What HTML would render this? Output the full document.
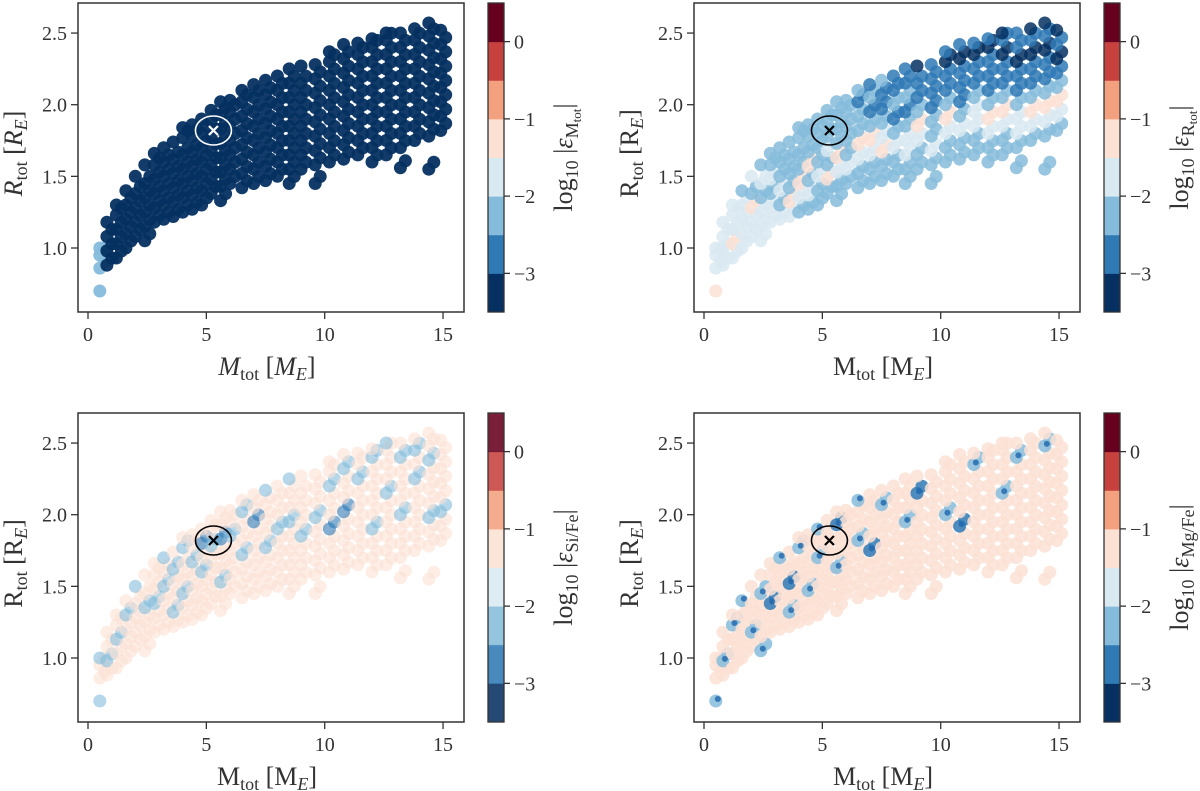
<!DOCTYPE html>
<html><head><meta charset="utf-8"><style>
html,body{margin:0;padding:0;background:#fff;}
svg{display:block;font-family:"Liberation Serif","DejaVu Serif",serif;}
</style></head><body>
<svg id="fig" width="1200" height="791" viewBox="0 0 1200 791" xmlns="http://www.w3.org/2000/svg"></svg>
<script>
// ---- data ----
const sliceMass = [0.5,0.8,1.2,1.6,2.0,2.4,2.8,3.2,3.6,4.0,4.4,4.8,5.2,5.6,6.0,6.5,7.0,7.5,8.0,8.5,9.0,9.6,10.2,10.8,11.4,12.0,12.6,13.2,13.8,14.4,14.9];
const sliceRadii = [
 [0.7,0.86,0.95,1.0],
 [0.88,0.98,1.08,1.18],
 [0.93,1.03,1.13,1.23,1.3],
 [1.0,1.1,1.2,1.3,1.4],
 [1.08,1.18,1.28,1.38,1.5],
 [1.05,1.15,1.25,1.35,1.45,1.58],
 [1.18,1.28,1.38,1.48,1.58,1.66],
 [1.2,1.3,1.4,1.5,1.6,1.7],
 [1.22,1.32,1.42,1.52,1.62,1.74],
 [1.25,1.35,1.45,1.55,1.65,1.77,1.84],
 [1.27,1.37,1.47,1.57,1.67,1.78,1.86],
 [1.3,1.4,1.5,1.6,1.7,1.8,1.9],
 [1.38,1.48,1.58,1.68,1.78,1.88,1.96],
 [1.33,1.43,1.53,1.63,1.73,1.83,1.93,2.02],
 [1.45,1.55,1.65,1.75,1.85,1.95,2.03],
 [1.42,1.52,1.62,1.72,1.82,1.92,2.02,2.1],
 [1.45,1.55,1.65,1.75,1.85,1.95,2.05,2.14],
 [1.47,1.57,1.67,1.77,1.87,1.97,2.07,2.17],
 [1.5,1.6,1.7,1.8,1.9,2.0,2.1,2.2],
 [1.45,1.55,1.65,1.75,1.85,1.95,2.05,2.15,2.25],
 [1.55,1.65,1.75,1.85,1.95,2.05,2.15,2.27],
 [1.45,1.58,1.68,1.78,1.88,1.98,2.08,2.18,2.28],
 [1.6,1.7,1.8,1.9,2.0,2.1,2.2,2.3,2.37],
 [1.62,1.72,1.82,1.92,2.02,2.12,2.22,2.32,2.42],
 [1.65,1.75,1.85,1.95,2.05,2.15,2.25,2.35,2.43],
 [1.6,1.7,1.8,1.9,2.0,2.1,2.2,2.3,2.4,2.46],
 [1.65,1.75,1.85,1.95,2.05,2.15,2.25,2.35,2.45,2.5],
 [1.56,1.7,1.8,1.9,2.0,2.1,2.2,2.3,2.4,2.5],
 [1.75,1.85,1.95,2.05,2.15,2.25,2.35,2.45,2.53],
 [1.55,1.78,1.88,1.98,2.08,2.18,2.28,2.38,2.48,2.57],
 [1.82,1.92,2.02,2.12,2.22,2.32,2.42,2.52]
];
// log10 error values per point (per slice, low R -> high R)
const errMtot = [
 [-2.4],[-3.2],[-3.2],[-3.2],[-3.2],[-3.2],[-3.2],[-3.2],[-3.2],[-3.2],[-3.2],[-3.2],[-3.2],[-3.2],[-3.2],[-3.2],
 [-3.2],[-3.2],[-3.2],[-3.2],[-3.2],[-3.2],[-3.2],[-3.2],[-3.2],[-3.2],[-3.2],[-3.2],[-3.2],[-3.2],[-3.2]
];
const errRtot = [
 [-1.3,-1.6,-1.6,-1.7],[-1.6,-1.7,-1.6,-1.8],[-1.6,-1.3,-1.7,-1.8,-1.7],[-1.6,-1.7,-1.8,-1.7,-2.2],
 [-1.7,-1.8,-1.3,-2.2,-1.8],[-1.8,-1.7,-1.8,-2.2,-1.8,-2.2],[-1.7,-1.8,-2.2,-1.8,-2.2,-2.3],[-1.8,-2.2,-1.7,-2.2,-2.3,-2.2],
 [-1.8,-1.3,-2.2,-2.3,-2.2,-2.3],[-2.2,-1.8,-1.3,-2.2,-2.3,-2.2,-2.3],[-2.2,-1.8,-2.3,-1.3,-2.2,-2.3,-2.2],[-2.2,-2.3,-1.8,-2.2,-2.3,-2.2,-2.3],
 [-2.2,-1.3,-2.3,-1.8,-2.3,-2.3,-2.3],[-2.2,-2.3,-1.8,-1.3,-2.2,-2.3,-2.3,-2.3],[-2.2,-1.8,-2.3,-2.2,-2.3,-2.3,-2.3],[-2.3,-2.2,-1.8,-1.3,-2.3,-2.3,-2.6,-2.3],
 [-2.2,-2.3,-1.8,-1.3,-2.3,-2.6,-2.3,-2.6],[-2.3,-2.2,-1.3,-1.8,-2.3,-2.6,-2.8,-2.3],[-2.2,-2.3,-1.8,-2.3,-2.6,-2.3,-2.8,-2.6],[-2.2,-2.3,-1.8,-1.8,-2.3,-2.6,-2.3,-2.8,-2.6],
 [-2.3,-2.2,-1.8,-1.3,-2.3,-2.6,-2.8,-3.1],[-2.3,-2.2,-1.8,-2.3,-2.3,-2.6,-2.8,-2.6,-2.8],[-2.2,-2.3,-1.8,-1.3,-2.3,-2.6,-2.8,-3.1,-2.6],[-2.3,-2.2,-1.8,-2.3,-2.6,-2.8,-2.6,-3.1,-2.8],
 [-2.2,-2.3,-1.8,-1.8,-2.3,-2.6,-2.8,-3.1,-2.8],[-2.3,-2.2,-1.8,-1.3,-2.3,-2.6,-2.8,-2.6,-3.1,-2.8],[-2.2,-2.3,-1.8,-1.3,-2.3,-2.6,-2.8,-3.1,-2.8,-3.1],[-2.3,-2.2,-1.8,-1.8,-2.3,-2.6,-2.8,-3.1,-2.8,-2.8],
 [-2.3,-1.8,-1.3,-2.3,-2.6,-2.8,-3.1,-2.8,-3.1],[-2.3,-2.2,-1.8,-1.3,-2.3,-2.6,-2.8,-3.1,-2.8,-3.1],[-2.3,-1.8,-1.3,-2.3,-2.8,-3.1,-2.8,-3.1]
];
const errSiFe = [
 [-2.3,-1.3,-1.3,-2.3],[-1.3,-2.3,-1.3,-1.3],[-1.3,-1.3,-2.3,-1.3,-1.3],[-1.3,-1.3,-1.3,-2.3,-1.3],[-1.3,-1.3,-1.3,-1.3,-2.3],
 [-1.3,-1.3,-1.3,-2.3,-1.3,-1.3],[-1.3,-1.3,-2.3,-1.3,-1.3,-1.3],[-1.3,-1.3,-1.3,-2.3,-1.3,-2.3],[-1.3,-2.3,-1.3,-1.3,-2.3,-1.3],
 [-1.3,-1.3,-2.3,-1.3,-1.3,-2.3,-1.3],[-1.3,-1.3,-1.3,-1.3,-2.3,-1.3,-1.3],[-1.3,-1.3,-1.3,-2.3,-1.3,-2.6,-1.3],[-1.3,-1.3,-1.3,-1.3,-2.3,-1.3,-1.3],
 [-1.3,-1.3,-2.3,-1.3,-1.3,-2.6,-1.3,-1.3],[-1.3,-1.3,-1.3,-1.3,-2.3,-1.3,-1.3],[-1.3,-1.3,-1.3,-2.3,-1.3,-1.3,-2.3,-1.3],[-1.3,-1.3,-1.3,-1.3,-1.3,-2.6,-1.3,-1.3],
 [-1.3,-1.3,-1.3,-2.3,-1.3,-1.3,-1.3,-2.3],[-1.3,-1.3,-1.3,-1.3,-2.3,-1.3,-1.3,-1.3],[-1.3,-1.3,-1.3,-1.3,-1.3,-2.3,-1.3,-1.3,-2.3],[-1.3,-1.3,-1.3,-2.3,-1.3,-1.3,-1.3,-1.3],
 [-1.3,-1.3,-1.3,-1.3,-1.3,-2.3,-1.3,-1.3,-1.3],[-1.3,-1.3,-1.3,-2.6,-1.3,-1.3,-2.3,-1.3,-1.3],[-1.3,-1.3,-1.3,-1.3,-2.6,-1.3,-1.3,-2.3,-1.3],[-1.3,-1.3,-1.3,-1.3,-1.3,-1.3,-2.3,-1.3,-1.3],
 [-1.3,-1.3,-1.3,-2.3,-1.3,-1.3,-1.3,-1.3,-2.3,-1.3],[-1.3,-1.3,-1.3,-1.3,-1.3,-2.3,-1.3,-1.3,-1.3,-2.3],[-1.3,-1.3,-1.3,-1.3,-2.3,-1.3,-1.3,-1.3,-2.3,-1.3],
 [-1.3,-1.3,-1.3,-1.3,-1.3,-2.3,-1.3,-2.3,-1.3],[-1.3,-1.3,-1.3,-2.3,-1.3,-1.3,-1.3,-2.3,-1.3,-1.3],[-1.3,-1.3,-2.3,-1.3,-1.3,-1.3,-1.3,-1.3]
];
const errMgFe = [
 [-2.3,-1.3,-1.3,-1.3],[-1.3,-2.3,-1.3,-1.3],[-1.3,-1.3,-1.3,-2.3,-1.3],[-1.3,-1.3,-1.3,-1.3,-2.3],[-1.3,-2.3,-1.3,-1.3,-1.3],
 [-2.3,-1.3,-1.3,-1.3,-2.3,-1.3],[-1.3,-1.3,-2.6,-1.3,-1.3,-1.3],[-1.3,-1.3,-1.3,-1.3,-1.3,-2.3],[-1.3,-2.3,-1.3,-2.6,-1.3,-1.3],
 [-1.3,-1.3,-1.3,-1.3,-1.3,-2.3,-1.3],[-1.3,-1.3,-2.3,-1.3,-1.3,-1.3,-1.3],[-1.3,-1.3,-1.3,-1.3,-2.3,-1.3,-2.3],[-1.3,-1.3,-1.3,-1.3,-1.3,-1.3,-1.3],
 [-1.3,-1.3,-1.3,-2.3,-1.3,-1.3,-2.6,-1.3],[-1.3,-1.3,-1.3,-1.3,-1.3,-1.3,-1.3],[-1.3,-1.3,-1.3,-1.3,-2.3,-1.3,-1.3,-2.3],[-1.3,-1.3,-1.3,-2.6,-1.3,-1.3,-1.3,-1.3],
 [-1.3,-1.3,-1.3,-1.3,-1.3,-1.3,-2.3,-1.3],[-1.3,-1.3,-1.3,-1.3,-1.3,-1.3,-1.3,-1.3],[-1.3,-1.3,-1.3,-1.3,-1.3,-2.3,-1.3,-1.3,-1.3],[-1.3,-1.3,-1.3,-1.3,-1.3,-1.3,-2.6,-1.3],
 [-1.3,-1.3,-1.3,-1.3,-1.3,-1.3,-1.3,-1.3,-1.3],[-1.3,-1.3,-1.3,-1.3,-2.3,-1.3,-1.3,-1.3,-1.3],[-1.3,-1.3,-1.3,-2.6,-1.3,-1.3,-1.3,-1.3,-1.3],[-1.3,-1.3,-1.3,-1.3,-1.3,-1.3,-1.3,-2.3,-1.3],
 [-1.3,-1.3,-1.3,-1.3,-1.3,-1.3,-1.3,-1.3,-1.3,-1.3],[-1.3,-1.3,-1.3,-1.3,-1.3,-2.3,-1.3,-1.3,-1.3,-1.3],[-1.3,-1.3,-1.3,-1.3,-1.3,-1.3,-1.3,-1.3,-2.3,-1.3],
 [-1.3,-1.3,-1.3,-1.3,-1.3,-1.3,-1.3,-1.3,-1.3],[-1.3,-1.3,-1.3,-1.3,-1.3,-1.3,-1.3,-1.3,-2.3,-1.3],[-1.3,-1.3,-1.3,-1.3,-1.3,-1.3,-1.3,-1.3]
];
const xTicks = [0,5,10,15];
const yTicks = [1.0,1.5,2.0,2.5];
const yTickLabels = ["1.0","1.5","2.0","2.5"];
const cbTicks = [0,-1,-2,-3];
const cbTickLabels = ["0","\u22121","\u22122","\u22123"];
const cbBandColors = ['#053061','#2f79b5','#86bcdb','#d9e9f1','#fbe1d3','#f2a07e','#c7413e','#67001f'];
const targetM = 5.3, targetR = 1.82;

const NS = 'http://www.w3.org/2000/svg';
const svg = document.getElementById('fig');
function mk(tag, attrs, parent){
  const e = document.createElementNS(NS, tag);
  for (const k in attrs) e.setAttribute(k, attrs[k]);
  (parent || svg).appendChild(e);
  return e;
}
function bandColor(v){
  let i = Math.floor((v + 3.5) / 0.5);
  i = Math.max(0, Math.min(7, i));
  return cbBandColors[i];
}

const panels = [
  {ox:0, oy:0, err:errMtot, alpha:0.95, cbAlpha:1, mark:'#ffffff', italic:true, sub:'M', name:'mtot', speck:false},
  {ox:616, oy:0, err:errRtot, alpha:0.85, cbAlpha:1, mark:'#000000', italic:false, sub:'R', name:'rtot', speck:false},
  {ox:0, oy:410, err:errSiFe, alpha:0.6, cbAlpha:0.88, mark:'#000000', italic:false, sub:'Si/Fe', name:'sife', speck:false},
  {ox:616, oy:410, err:errMgFe, alpha:0.85, cbAlpha:1, mark:'#000000', italic:false, sub:'Mg/Fe', name:'mgfe', speck:true}
];

panels.forEach(function(p, pi){
  const g = mk('g', {});
  
  
  const L = 78 + p.ox, R = 464 + p.ox, T = 3 + p.oy, B = 312 + p.oy;
  const xs = function(m){ return 88 + p.ox + m * 23.67; };
  const ys = function(r){ return 248 + p.oy - (r - 1) * 143.3; };

  const pts = mk('g', {}, g);
  
  
  const specks = [];
  sliceMass.forEach(function(m, si){
    const rs = sliceRadii[si];
    const es = p.err[si] || [];
    rs.forEach(function(r, k){
      const v = es.length ? (es[k] !== undefined ? es[k] : es[es.length - 1]) : -3.2;
      const col = bandColor(v);
      const px = xs(m), py = ys(r);
      const c = mk('circle', {cx: px.toFixed(1), cy: py.toFixed(1), r: 6.5, fill: col, 'fill-opacity': p.alpha}, pts);
      
      
      if (r > 0.75 && r < rs[rs.length-1]) {
        const c2 = mk('circle', {cx: (px + 5).toFixed(1), cy: (py - 7).toFixed(1), r: 6.5, fill: col, 'fill-opacity': p.alpha}, pts);
        
        
      }
      if (p.speck && v < -2) specks.push([px, py]);
    });
  });
  specks.forEach(function(s){
    const d = mk('circle', {cx:(s[0]+2).toFixed(1), cy:(s[1]-2).toFixed(1), r:3, fill:'#2166ac', 'fill-opacity':0.8}, pts);
    
    
  });

  const box = mk('rect', {x:L, y:T, width:R-L, height:B-T, fill:'none', stroke:'#333', 'stroke-width':1.5}, g);
  
  

  xTicks.forEach(function(t){
    const x = xs(t);
    const tl = mk('line', {x1:x, y1:B, x2:x, y2:B+7, stroke:'#333', 'stroke-width':1.3}, g);
    
    
    const tx = mk('text', {x:x, y:B+29, 'font-size':20, 'text-anchor':'middle', fill:'#333'}, g);
    tx.textContent = String(t);
    
    
  });
  yTicks.forEach(function(t, i){
    const y = ys(t);
    const tl = mk('line', {x1:L-7, y1:y, x2:L, y2:y, stroke:'#333', 'stroke-width':1.3}, g);
    
    
    const tx = mk('text', {x:L-11, y:y+7, 'font-size':20, 'text-anchor':'end', fill:'#333'}, g);
    tx.textContent = yTickLabels[i];
    
    
  });

  const fs = p.italic ? 'italic' : 'normal';
  const xl = mk('text', {x:(L+R)/2 - 4, y:B+63, 'font-size':26, 'text-anchor':'middle', fill:'#333'}, g);
  
  
  xl.innerHTML = '<tspan font-style="'+fs+'">M</tspan><tspan font-size="18" dy="5">tot</tspan><tspan dy="-5"> [</tspan><tspan font-style="'+fs+'">M</tspan><tspan font-size="18" dy="5" font-style="italic">E</tspan><tspan dy="-5">]</tspan>';
  const yl = mk('text', {x:0, y:0, 'font-size':26, 'text-anchor':'middle', fill:'#333', transform:'translate('+(L-56)+','+((T+B)/2 - 4)+') rotate(-90)'}, g);
  
  
  yl.innerHTML = '<tspan font-style="'+fs+'">R</tspan><tspan font-size="18" dy="5">tot</tspan><tspan dy="-5"> [</tspan><tspan font-style="'+fs+'">R</tspan><tspan font-size="18" dy="5" font-style="italic">E</tspan><tspan dy="-5">]</tspan>';

  const tgt = mk('g', {}, g);
  
  
  const cx = xs(targetM), cy = ys(targetR);
  mk('ellipse', {cx:cx, cy:cy, rx:18, ry:14.5, fill:'none', stroke:p.mark, 'stroke-width':1.6}, tgt);
  mk('path', {d:'M'+(cx-4.5)+' '+(cy-4.5)+'L'+(cx+4.5)+' '+(cy+4.5)+'M'+(cx+4.5)+' '+(cy-4.5)+'L'+(cx-4.5)+' '+(cy+4.5), stroke:p.mark, 'stroke-width':2.2}, tgt);

  const cb = mk('g', {}, g);
  
  
  const cL = 488 + p.ox, cR = 504 + p.ox;
  const cy0 = function(v){ return T + (0.5 - v) / 4 * (B - T); };
  cbBandColors.forEach(function(col, i){
    const vLo = -3.5 + i * 0.5, vHi = vLo + 0.5;
    const r = mk('rect', {x:cL, y:cy0(vHi), width:cR-cL, height:cy0(vLo)-cy0(vHi)+0.5, fill:col, 'fill-opacity':p.cbAlpha}, cb);
    
    
  });
  mk('rect', {x:cL, y:T, width:cR-cL, height:B-T, fill:'none', stroke:'#333', 'stroke-width':1.3}, cb);
  cbTicks.forEach(function(t, i){
    const y = cy0(t);
    mk('line', {x1:cR, y1:y, x2:cR+6, y2:y, stroke:'#333', 'stroke-width':1.3}, cb);
    const tx = mk('text', {x:cR+10, y:y+7, 'font-size':20, fill:'#333'}, cb);
    tx.textContent = cbTickLabels[i];
    
    
  });
  const cl = mk('text', {x:0, y:0, 'font-size':26, 'text-anchor':'middle', fill:'#333', transform:'translate('+(cR+68)+','+((T+B)/2)+') rotate(-90)'}, cb);
  
  
  const isTot = (p.sub==='M'||p.sub==='R');
  cl.innerHTML = 'log<tspan font-size="18" dy="6">10</tspan><tspan dy="-6"> |</tspan><tspan font-style="italic">ε</tspan><tspan font-size="18" dy="6">'+p.sub+'</tspan>' + (isTot ? '<tspan font-size="13" dy="3">tot</tspan><tspan dy="-9">|</tspan>' : '<tspan dy="-6">|</tspan>');
});
</script>
</body></html>
